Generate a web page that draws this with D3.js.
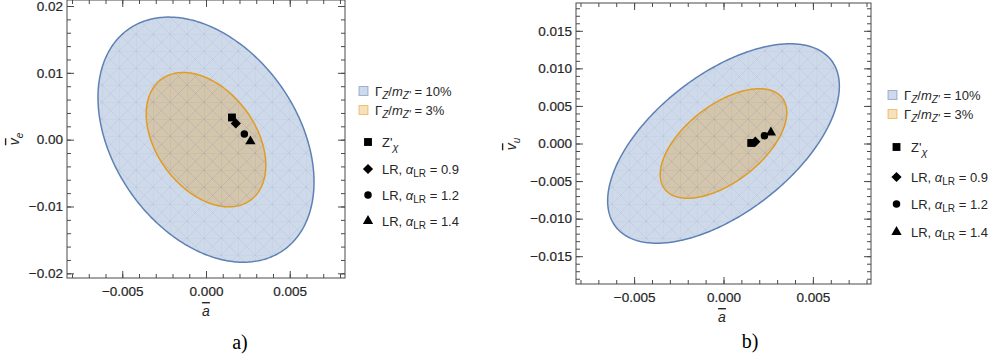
<!DOCTYPE html>
<html><head><meta charset="utf-8">
<script src="https://cdn.jsdelivr.net/npm/d3@7"></script>
<style>
body{margin:0;background:#fff;}
svg text{font-family:"Liberation Sans",Arial,Helvetica,sans-serif;}
</style></head><body>
<svg id="chart" width="997" height="360"></svg>
<script>
// Width contours: Γ_Z/m_Z' = 10% and 3%
const contourLabels = ["10%", "3%"];
const contourColors = ["#5E81B5", "#E19C24"];

// Contour ellipses in the (ā, v̄_e) plane: centre, half-extents, correlation
const ellipseCxA = [0, 0];
const ellipseCyA = [0, 0];
const ellipseSxA = [0.00645, 0.00357];
const ellipseSyA = [0.01834, 0.01005];
const ellipseRhoA = [-0.345, -0.38];

// Contour ellipses in the (ā, v̄_u) plane
const ellipseCxB = [0, 0];
const ellipseCyB = [0, 0];
const ellipseSxB = [0.00648, 0.00354];
const ellipseSyB = [0.01327, 0.00729];
const ellipseRhoB = [0.575, 0.565];

// Benchmark models
const modelSymbols = ["square", "diamond", "circle", "triangle"];
const modelAlphaLR = [null, "0.9", "1.2", "1.4"];
const modelA  = [0.00155, 0.00178, 0.00229, 0.00265];
const modelVe = [0.00332, 0.00243, 0.00085, -0.00025];
const modelVu = [0.00007, 0.00024, 0.00104, 0.00146];

// Tick values
const xTicks  = [-0.005, 0, 0.005];
const yTicksA = [-0.02, -0.01, 0, 0.01, 0.02];
const yTicksB = [-0.015, -0.01, -0.005, 0, 0.005, 0.01, 0.015];

const svg = d3.select("#chart");
const defs = svg.append("defs");

// faint mesh texture inside the filled regions
const pat = defs.append("pattern").attr("id", "mesh")
  .attr("patternUnits", "userSpaceOnUse").attr("width", 17).attr("height", 17);
pat.append("path")
  .attr("d", "M0,0L17,17M17,0L0,17M0,0L17,0M0,0L0,17")
  .attr("stroke", "#6f84ad").attr("stroke-opacity", 0.16)
  .attr("stroke-width", 0.7).attr("fill", "none");

// marker shapes: [symbol type, area, rotation]
const symbolTypes = {
  square: [d3.symbolSquare, 62, 0],
  diamond: [d3.symbolSquare, 52, 45],
  circle: [d3.symbolCircle, 44, 0],
  triangle: [d3.symbolTriangle, 46, 0]
};

const panels = [
  {
    box: {left: 67, right: 345, top: 0, bottom: 278},
    xDomain: [-0.0083, 0.0083], yDomain: [-0.0207, 0.0209],
    yTicks: yTicksA, yFmt: ".2f", yMinorStep: 0.002,
    cx: ellipseCxA, cy: ellipseCyA, sx: ellipseSxA, sy: ellipseSyA, rho: ellipseRhoA,
    my: modelVe, ySub: "e",
    yLabelPos: [14, 139], xLabelPos: [206, 316], caption: "a)", captionPos: [240, 349],
    legend: {x: 359, rows: [91, 110, 142, 169, 195, 221], markerX: 368, textX: 382}
  },
  {
    box: {left: 576, right: 871, top: 3, bottom: 284},
    xDomain: [-0.00825, 0.00825], yDomain: [-0.0187, 0.0187],
    yTicks: yTicksB, yFmt: ".3f", yMinorStep: 0.001,
    cx: ellipseCxB, cy: ellipseCyB, sx: ellipseSxB, sy: ellipseSyB, rho: ellipseRhoB,
    my: modelVu, ySub: "u",
    yLabelPos: [511, 144], xLabelPos: [722, 322], caption: "b)", captionPos: [750, 348],
    legend: {x: 888, rows: [95, 114, 147, 177, 204, 232], markerX: 896.5, textX: 911}
  }
];

const frameColor = "#4a4a4a";
const textColor = "#262626";

function marker(g, s, px, py) {
  const [type, size, rot] = symbolTypes[s];
  g.append("path").attr("d", d3.symbol().type(type).size(size)())
    .attr("transform", `translate(${px},${py}) rotate(${rot})`)
    .attr("fill", "#000");
}

panels.forEach(p => {
  const b = p.box;
  const x = d3.scaleLinear().domain(p.xDomain).range([b.left, b.right]);
  const y = d3.scaleLinear().domain(p.yDomain).range([b.bottom, b.top]);
  const g = svg.append("g");

  // contour ellipses, outer first
  const ts = d3.range(0, 2 * Math.PI + 0.001, Math.PI / 180);
  const line = d3.line().x(d => x(d[0])).y(d => y(d[1])).curve(d3.curveLinearClosed);
  [0, 1].forEach(i => {
    const pts = ts.map(t => [
      p.cx[i] + p.sx[i] * Math.cos(t),
      p.cy[i] + p.sy[i] * (p.rho[i] * Math.cos(t) + Math.sqrt(1 - p.rho[i] * p.rho[i]) * Math.sin(t))
    ]);
    const d = line(pts);
    g.append("path").attr("d", d).attr("fill", contourColors[i]).attr("fill-opacity", 0.3);
    g.append("path").attr("d", d).attr("fill", "url(#mesh)");
    g.append("path").attr("d", d).attr("fill", "none")
      .attr("stroke", contourColors[i]).attr("stroke-width", 1.5);
  });

  // benchmark points
  modelA.forEach((a, i) => marker(g, modelSymbols[i], x(a), y(p.my[i])));

  // frame
  g.append("rect").attr("x", b.left).attr("y", b.top)
    .attr("width", b.right - b.left).attr("height", b.bottom - b.top)
    .attr("fill", "none").attr("stroke", frameColor).attr("stroke-width", 1);

  const xMinor = d3.range(-0.008, 0.00801, 0.001).filter(v => v >= p.xDomain[0] && v <= p.xDomain[1]);
  const yMinor = d3.range(-0.02, 0.02001, p.yMinorStep).filter(v => v >= p.yDomain[0] && v <= p.yDomain[1]);
  const fmtX = d3.format(".3f");
  const fmtY = d3.format(p.yFmt);

  function styleAxis(sel) {
    sel.select(".domain").remove();
    sel.selectAll(".tick line").attr("stroke", frameColor);
    sel.selectAll(".tick text").attr("fill", textColor).style("font-size", "13.5px")
      .attr("stroke", textColor).attr("stroke-width", 0.2);
  }

  // bottom / left: major ticks with labels, minor ticks without
  g.append("g").attr("transform", `translate(0,${b.bottom})`)
    .call(d3.axisBottom(x).tickValues(xMinor).tickSize(-4).tickFormat(""))
    .call(styleAxis);
  g.append("g").attr("transform", `translate(0,${b.bottom})`)
    .call(d3.axisBottom(x).tickValues(xTicks).tickSize(-7).tickPadding(8).tickFormat(fmtX))
    .call(styleAxis);
  g.append("g").attr("transform", `translate(${b.left},0)`)
    .call(d3.axisLeft(y).tickValues(yMinor).tickSize(-4).tickFormat(""))
    .call(styleAxis);
  g.append("g").attr("transform", `translate(${b.left},0)`)
    .call(d3.axisLeft(y).tickValues(p.yTicks).tickSize(-7).tickPadding(4).tickFormat(fmtY))
    .call(styleAxis);
  // top / right: ticks only
  g.append("g").attr("transform", `translate(0,${b.top})`)
    .call(d3.axisTop(x).tickValues(xMinor).tickSize(-4).tickFormat("")).call(styleAxis);
  g.append("g").attr("transform", `translate(0,${b.top})`)
    .call(d3.axisTop(x).tickValues(xTicks).tickSize(-7).tickFormat("")).call(styleAxis);
  g.append("g").attr("transform", `translate(${b.right},0)`)
    .call(d3.axisRight(y).tickValues(yMinor).tickSize(-4).tickFormat("")).call(styleAxis);
  g.append("g").attr("transform", `translate(${b.right},0)`)
    .call(d3.axisRight(y).tickValues(p.yTicks).tickSize(-7).tickFormat("")).call(styleAxis);

  // axis titles
  const xl = g.append("text").attr("x", p.xLabelPos[0]).attr("y", p.xLabelPos[1])
    .attr("text-anchor", "middle").attr("fill", textColor).style("font-size", "14px");
  xl.append("tspan").attr("font-style", "italic").style("text-decoration", "overline").text("a");

  const yl = g.append("text")
    .attr("transform", `translate(${p.yLabelPos[0]},${p.yLabelPos[1]}) rotate(-90)`)
    .attr("text-anchor", "middle").attr("dy", "0.35em").attr("fill", textColor).style("font-size", "14px");
  yl.append("tspan").attr("font-style", "italic").style("text-decoration", "overline").text("v");
  yl.append("tspan").attr("font-style", "italic").attr("dy", 4).style("font-size", "10px").text(p.ySub);

  // panel caption
  g.append("text").attr("x", p.captionPos[0]).attr("y", p.captionPos[1])
    .attr("text-anchor", "middle").attr("fill", "#000")
    .style("font-family", "'Liberation Serif','Times New Roman',serif").style("font-size", "20px")
    .text(p.caption);

  // legend
  const L = p.legend;
  contourLabels.forEach((lab, i) => {
    const ry = L.rows[i];
    g.append("rect").attr("x", L.x).attr("y", ry - 4.5).attr("width", 9).attr("height", 9)
      .attr("fill", contourColors[i]).attr("fill-opacity", 0.3)
      .attr("stroke", contourColors[i]).attr("stroke-opacity", 0.55).attr("stroke-width", 1);
    const t = g.append("text").attr("x", L.x + 16).attr("y", ry).attr("dy", "0.35em")
      .attr("fill", textColor).style("font-size", "13px");
    t.append("tspan").text("Γ");
    t.append("tspan").attr("font-style", "italic").attr("dy", 3).style("font-size", "10px").text("Z");
    t.append("tspan").attr("dy", -3).text("/");
    t.append("tspan").attr("font-style", "italic").text("m");
    t.append("tspan").attr("font-style", "italic").attr("dy", 3).style("font-size", "10px").text("Z'");
    t.append("tspan").attr("dy", -3).text(" = " + lab);
  });
  modelSymbols.forEach((s, i) => {
    const ry = L.rows[i + 2];
    marker(g, s, L.markerX, ry);
    const t = g.append("text").attr("x", L.textX).attr("y", ry).attr("dy", "0.35em")
      .attr("fill", textColor).style("font-size", "13px");
    if (modelAlphaLR[i] === null) {
      t.append("tspan").text("Z'");
      t.append("tspan").attr("font-style", "italic").attr("dy", 4).style("font-size", "11px").text("χ");
    } else {
      t.append("tspan").text("LR, ");
      t.append("tspan").attr("font-style", "italic").text("α");
      t.append("tspan").attr("dy", 3).style("font-size", "10px").text("LR");
      t.append("tspan").attr("dy", -3).text(" = " + modelAlphaLR[i]);
    }
  });
});
</script>
</body></html>
